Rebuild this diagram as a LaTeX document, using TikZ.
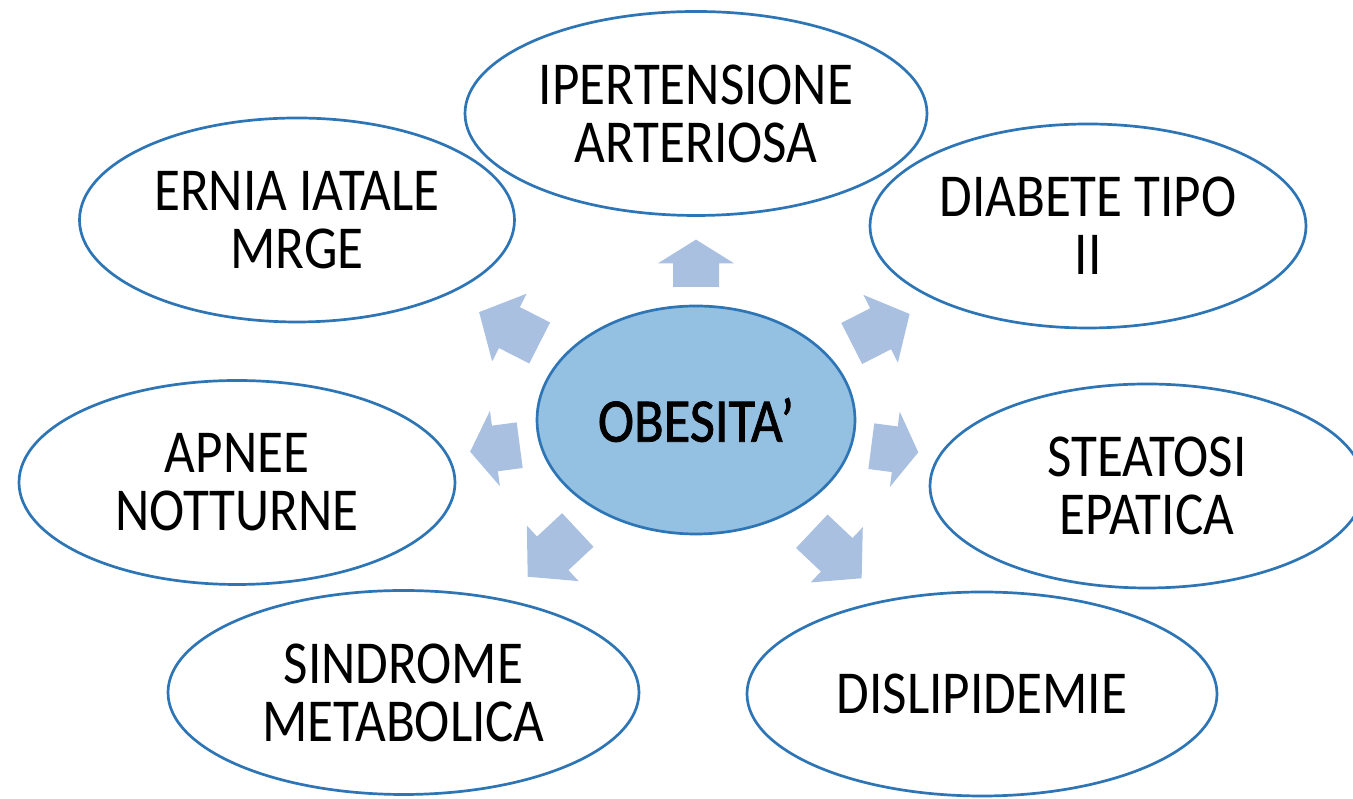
\documentclass[tikz,border=0pt]{standalone}
\usepackage{fontspec}
\usepackage{tikz}
\usetikzlibrary{shapes.geometric}
\newfontfamily\calib[FakeStretch=0.87]{Carlito}
\newfontfamily\calibheavy[FakeStretch=0.88,FakeBold=1.2]{Carlito}
\definecolor{rimblue}{RGB}{46,117,182}
\definecolor{coreblue}{RGB}{148,192,226}
\definecolor{arrowblue}{RGB}{170,192,225}

\begin{document}
\begin{tikzpicture}[x=1pt,y=1pt,
  bubble/.style={ellipse, draw=rimblue, line width=2.7pt, fill=white, inner sep=0pt,
    minimum height=204pt, align=center, font={\calib\fontsize{61}{58}\selectfont}},
  core/.style={bubble, fill=coreblue, minimum width=318pt, minimum height=228pt,
    font={\calibheavy\fontsize{62}{58}\selectfont}}]
\useasboundingbox (0,0) rectangle (1353,799);
% centre
\node [core] (obesita) at (696,379) {OBESITA’};
% around
\node [bubble, minimum width=462pt] (ipert) at (696,685.5) {IPERTENSIONE\\ARTERIOSA};
\node [bubble, minimum width=435pt] (ernia) at (297,579) {ERNIA IATALE\\MRGE};
\node [bubble, minimum width=436pt] (diabete) at (1088,573) {DIABETE TIPO\\II};
\node [bubble, minimum width=436pt] (apnee) at (237,316.5) {APNEE\\NOTTURNE};
\node [bubble, minimum width=434pt] (steatosi) at (1147,313) {STEATOSI\\EPATICA};
\node [bubble, minimum width=471pt] (sindrome) at (403.5,106.5) {SINDROME\\METABOLICA};
\node [bubble, minimum width=470pt] (dislip) at (982,105) {DISLIPIDEMIE};
% block arrows
\foreach \x/\y/\a/\l in {696/512/90/47.4, 851.7/455.5/27/65, 871.3/352.8/-7.4/47.4,
    811.8/267.7/-43.3/68.5, 577.8/269/223/68.5, 519.7/353.8/187.5/50, 539.7/456/153/68}
  \fill [arrowblue, shift={(\x,\y)}, rotate=\a] (0,-23) -- (\l/2,-23) -- (\l/2,-38) -- (\l,0)
    -- (\l/2,38) -- (\l/2,23) -- (0,23) -- cycle;
\end{tikzpicture}
\end{document}
